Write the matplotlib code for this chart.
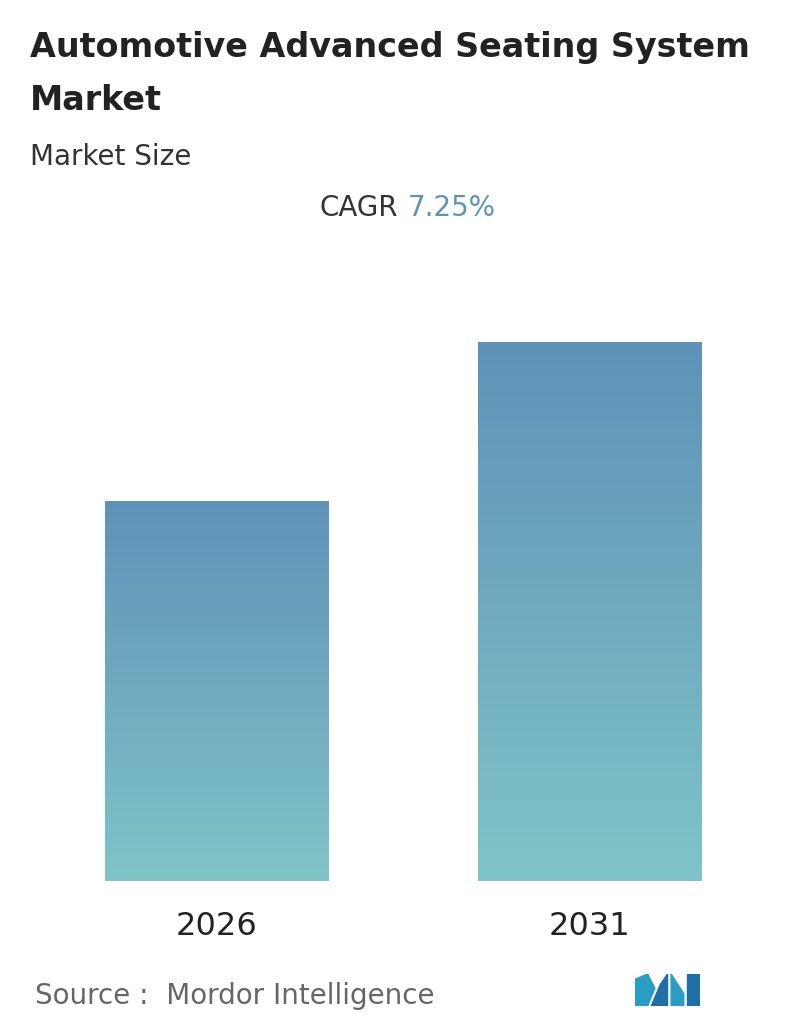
import matplotlib.pyplot as plt
import numpy as np
from matplotlib.colors import LinearSegmentedColormap
from matplotlib.patches import Polygon

# Données (valeurs relatives, CAGR 7.25 %)
years = ['2026', '2031']
values = [100, 141.9]
cagr = '7.25%'

fig = plt.figure(figsize=(7.96, 10.34), dpi=100)
fig.patch.set_facecolor('white')

ax = fig.add_axes([30 / 796, 1 - 881 / 1034, 746 / 796, 581 / 1034])
ax.set_xlim(-0.5, 1.5)
ax.set_ylim(0, 153)
ax.axis('off')

# Dégradé vertical des barres
cmap = LinearSegmentedColormap.from_list('grad', ['#80c4c8', '#5f92b8'])
grad = np.linspace(0, 1, 256).reshape(-1, 1)
width = 0.598
for i, v in enumerate(values):
    bar = ax.bar(i, v, width=width, color='none', edgecolor='none')[0]
    im = ax.imshow(grad, cmap=cmap, origin='lower', aspect='auto',
                   extent=[i - width / 2, i + width / 2, 0, v], zorder=1)
    im.set_clip_path(bar)
    ax.text(i, -8, years[i], ha='center', va='top', fontsize=23, color='#222222')

fig.text(30 / 796, 1 - 48 / 1034, 'Automotive Advanced Seating System', fontsize=24,
         fontweight='semibold', color='#222222', va='center')
fig.text(30 / 796, 1 - 101 / 1034, 'Market', fontsize=24, fontweight='semibold',
         color='#222222', va='center')
fig.text(30 / 796, 1 - 157 / 1034, 'Market Size', fontsize=20, color='#333333', va='center')
fig.text(0.5, 1 - 208 / 1034, 'CAGR', fontsize=20, color='#333333', va='center', ha='right')
fig.text(0.512, 1 - 208 / 1034, cagr, fontsize=20, color='#5f92b8', va='center', ha='left')
fig.text(35 / 796, 1 - 996 / 1034, 'Source :  Mordor Intelligence', fontsize=20,
         color='#666666', va='center')

# Logo simplifié
lx = fig.add_axes([635 / 796, 1 - 1006 / 1034, 65 / 796, 32 / 1034])
lx.set_xlim(0, 72)
lx.set_ylim(0, 36)
lx.axis('off')
lx.add_patch(Polygon([[0, 0], [0, 30], [14, 36], [22, 20], [14, 0]], color='#2a9dc4'))
lx.add_patch(Polygon([[18, 0], [28, 24], [36, 36], [36, 0]], color='#1d6fa5'))
lx.add_patch(Polygon([[40, 0], [40, 36], [54, 14], [54, 0]], color='#2a9dc4'))
lx.add_patch(Polygon([[58, 0], [58, 36], [72, 36], [72, 0]], color='#1d6fa5'))

fig.savefig('out.png', dpi=100)
